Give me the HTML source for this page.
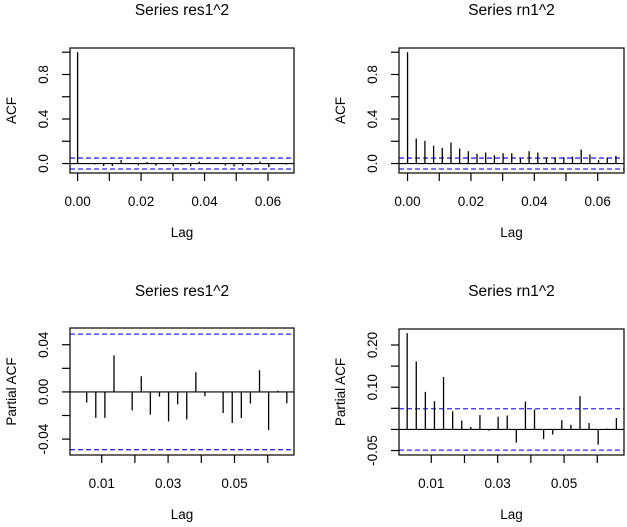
<!DOCTYPE html>
<html><head><meta charset="utf-8"><style>
html,body{margin:0;padding:0;background:#fff;}
svg{display:block;font-family:"Liberation Sans",Arial,sans-serif;}
</style></head><body>
<svg id="c" width="627" height="527" viewBox="0 0 627 527" xmlns="http://www.w3.org/2000/svg"></svg>
<script>
// ---- data ----
const lagStep = 1/365;
const res1AcfValues = [1.0,0,-0.009,-0.022,-0.022,0.031,0.0005,-0.0156,0.0133,-0.0193,-0.004,-0.025,-0.0105,-0.0233,0.0167,-0.0037,0,-0.0179,-0.0264,-0.0221,-0.0099,0.0184,-0.0323,0.001,-0.0096];
const rn1AcfValues = [1.0,0.225,0.204,0.159,0.141,0.189,0.135,0.111,0.087,0.099,0.075,0.093,0.093,0.045,0.111,0.099,0.057,0.057,0.057,0.063,0.126,0.081,0.033,0.054,0.069];
const res1PacfValues = [0,-0.009,-0.022,-0.022,0.031,0.0005,-0.0156,0.0133,-0.0193,-0.004,-0.025,-0.0105,-0.0233,0.0167,-0.0037,0,-0.0179,-0.0264,-0.0221,-0.0099,0.0184,-0.0323,0.001,-0.0096];
const rn1PacfValues = [0.228,0.161,0.089,0.067,0.124,0.043,0.021,0.006,0.034,-0.003,0.030,0.033,-0.031,0.066,0.047,-0.023,-0.012,0.022,0.011,0.079,0.015,-0.036,0.002,0.027];
const ciBound = 0.049;
const acfXTicks = [0,0.01,0.02,0.03,0.04,0.05,0.06];
const acfXLabels = ["0.00","","0.02","","0.04","","0.06"];
const pacfXTicks = [0.01,0.02,0.03,0.04,0.05,0.06];
const pacfXLabels = ["0.01","","0.03","","0.05",""];
const acfYTicks = [0,0.2,0.4,0.6,0.8,1.0];
const acfYLabels = ["0.0","","0.4","","0.8",""];
const resPacfYTicks = [-0.04,-0.02,0,0.02,0.04];
const resPacfYLabels = ["-0.04","","0.00","","0.04"];
const rnPacfYTicks = [-0.05,0,0.05,0.10,0.15,0.20];
const rnPacfYLabels = ["-0.05","","","0.10","","0.20"];

const NS="http://www.w3.org/2000/svg";
const svg=document.getElementById('c');
function mk(tag,attrs,parent){const e=document.createElementNS(NS,tag);for(const k in attrs)e.setAttribute(k,attrs[k]);(parent||svg).appendChild(e);return e;}

function panel(o){
  const g=mk('g',{});
  
  
  const x=v=>o.x0+(v-o.xmin)/(o.xmax-o.xmin)*(o.x1-o.x0);
  const y=v=>o.y1-(v-o.ymin)/(o.ymax-o.ymin)*(o.y1-o.y0);
  // title
  const t=mk('text',{x:(o.x0+o.x1)/2,y:o.titleY,'text-anchor':'middle','font-size':'15.5'},g);
  t.textContent=o.title;
  
  
  // zero line
  const z=mk('line',{x1:o.x0,x2:o.x1,y1:y(0),y2:y(0),stroke:'#000','stroke-width':1.2},g);
  
  
  // ci lines
  [ciBound,-ciBound].forEach(b=>{
    const l=mk('line',{x1:o.x0,x2:o.x1,y1:y(b),y2:y(b),stroke:'#2b2bf5','stroke-width':1.3,'stroke-dasharray':'5,3'},g);
    
    
  });
  // bars
  o.values.forEach((v,i)=>{
    const lag=(i+o.lagStart)*lagStep;
    const b=mk('line',{x1:x(lag),x2:x(lag),y1:y(0),y2:y(v),stroke:'#000','stroke-width':1.3},g);
    
    
  });
  // box
  const r=mk('rect',{x:o.x0,y:o.y0,width:o.x1-o.x0,height:o.y1-o.y0,fill:'none',stroke:'#000','stroke-width':1.2},g);
  
  
  // x ticks
  o.xTicks.forEach((v,i)=>{
    const tk=mk('line',{x1:x(v),x2:x(v),y1:o.y1,y2:o.y1+8,stroke:'#000','stroke-width':1.2},g);
    
    
    if(o.xLabels[i]){const tl=mk('text',{x:x(v),y:o.y1+33,'text-anchor':'middle','font-size':'13.5'},g);tl.textContent=o.xLabels[i];
      
      }
  });
  // y ticks
  o.yTicks.forEach((v,i)=>{
    const tk=mk('line',{x1:o.x0-8,x2:o.x0,y1:y(v),y2:y(v),stroke:'#000','stroke-width':1.2},g);
    
    
    if(o.yLabels[i]){const tx=o.x0-22,ty=y(v);const tl=mk('text',{x:tx,y:ty,'text-anchor':'middle','font-size':'13.5',transform:`rotate(-90 ${tx} ${ty})`},g);tl.textContent=o.yLabels[i];
      
      }
  });
  const xl=mk('text',{x:(o.x0+o.x1)/2,y:o.y1+64,'text-anchor':'middle','font-size':'13.5'},g);xl.textContent='Lag';
  
  
  const yx=o.x0-54, yy=(o.y0+o.y1)/2;
  const yl=mk('text',{x:yx,y:yy,'text-anchor':'middle','font-size':'13.5',transform:`rotate(-90 ${yx} ${yy})`},g);yl.textContent=o.ylab;
  
  
}

panel({name:'acf-res1-panel',title:'Series  res1^2',ylab:'ACF',x0:70,x1:294,y0:48,y1:173,xmin:-0.0024,xmax:0.0682,ymin:-0.085,ymax:1.038,
  values:res1AcfValues,lagStart:0,xTicks:acfXTicks,xLabels:acfXLabels,yTicks:acfYTicks,yLabels:acfYLabels,titleY:15});
panel({name:'acf-rn1-panel',title:'Series  rn1^2',ylab:'ACF',x0:399,x1:624,y0:48,y1:173,xmin:-0.0027,xmax:0.0683,ymin:-0.085,ymax:1.038,
  values:rn1AcfValues,lagStart:0,xTicks:acfXTicks,xLabels:acfXLabels,yTicks:acfYTicks,yLabels:acfYLabels,titleY:15});
panel({name:'pacf-res1-panel',title:'Series  res1^2',ylab:'Partial ACF',x0:70,x1:294,y0:328,y1:455,xmin:0.00045,xmax:0.06792,ymin:-0.0535,ymax:0.0542,
  values:res1PacfValues,lagStart:1,xTicks:pacfXTicks,xLabels:pacfXLabels,yTicks:resPacfYTicks,yLabels:resPacfYLabels,titleY:296});
panel({name:'pacf-rn1-panel',title:'Series  rn1^2',ylab:'Partial ACF',x0:399,x1:624,y0:329,y1:455,xmin:0.00028,xmax:0.06805,ymin:-0.0606,ymax:0.2379,
  values:rn1PacfValues,lagStart:1,xTicks:pacfXTicks,xLabels:pacfXLabels,yTicks:rnPacfYTicks,yLabels:rnPacfYLabels,titleY:296});
</script>
</body></html>
